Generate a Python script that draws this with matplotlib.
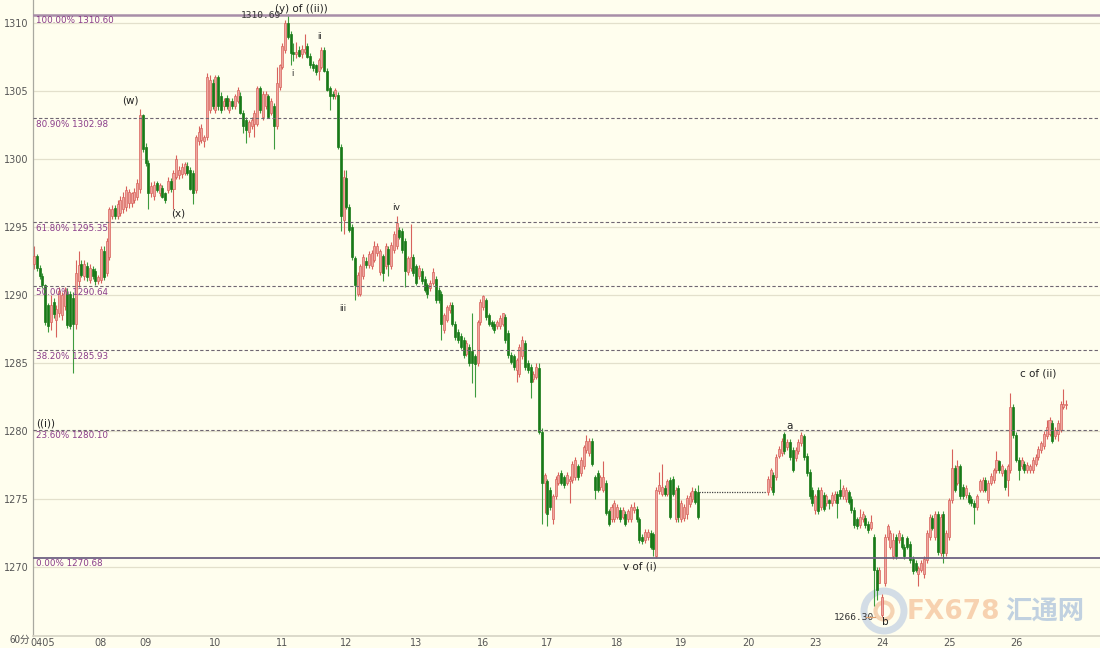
import matplotlib
matplotlib.use('Agg')
import matplotlib.pyplot as plt
from matplotlib.patches import Ellipse
import numpy as np

# XAUUSD 60-minute candles, 5 Apr - 26 Apr
holiday = [1275.5] * 24   # 19 Apr, no trading: flat bars

opens = [
    # 0405 - 09
    1292.3, 1292.9, 1292.0, 1291.4, 1290.7, 1289.3, 1288.0, 1289.5, 1288.2, 1288.7, 1288.5, 1289.2, 1290.1, 1290.1, 1289.8, 1287.9,
    1291.0, 1292.3, 1291.4, 1292.1, 1291.1, 1291.9, 1291.8, 1291.0, 1291.1, 1293.2, 1291.6, 1292.8, 1295.8, 1296.4, 1295.8, 1296.0,
    1296.3, 1296.5, 1296.8, 1296.8, 1297.0, 1297.2, 1297.8, 1303.2, 1300.9, 1299.7, 1297.5, 1297.3, 1298.2, 1297.5, 1297.9, 1297.5,
    1297.7, 1298.4, 1297.8, 1298.7, 1298.8, 1298.9, 1299.0, 1299.5, 1299.2, 1299.0, 1297.7, 1301.3, 1301.4, 1301.3, 1301.6,
    # 10 - 12
    1303.6, 1305.6, 1303.6, 1306.0, 1304.6, 1303.9, 1304.5, 1303.6, 1304.3, 1303.9, 1304.3, 1304.6, 1303.4, 1302.9, 1302.0, 1302.4,
    1302.6, 1302.6, 1305.2, 1303.1, 1303.9, 1304.6, 1303.4, 1303.9, 1302.4, 1305.3, 1306.8, 1308.0, 1310.0, 1309.2, 1307.9, 1307.7,
    1308.0, 1307.7, 1307.9, 1308.3, 1307.6, 1307.0, 1306.9, 1306.5, 1306.8, 1308.0, 1306.5, 1305.2, 1304.8, 1304.6, 1304.7, 1300.9,
    1295.5, 1298.6, 1296.5, 1295.0, 1292.7, 1290.1, 1290.1, 1291.4, 1292.5, 1292.2, 1292.1, 1292.6, 1293.1,
    # 12 - 17
    1291.7, 1292.9, 1292.1, 1293.4, 1292.1, 1293.3, 1293.6, 1294.8, 1294.7, 1294.0, 1291.7, 1292.0, 1292.8, 1292.1, 1291.4, 1291.8,
    1291.2, 1290.7, 1290.5, 1290.9, 1291.2, 1290.4, 1290.1, 1287.4, 1288.2, 1288.9, 1289.3, 1287.9, 1287.3, 1287.0, 1286.7, 1285.7,
    1286.2, 1285.9, 1285.5, 1285.0, 1288.0, 1289.1, 1289.6, 1288.5, 1288.0, 1287.9, 1287.7, 1287.7, 1287.9, 1288.4, 1287.2, 1285.6,
    1285.5, 1284.5, 1284.2, 1285.5, 1286.5, 1285.0, 1284.7, 1283.8, 1284.0, 1284.6, 1279.9,
    # 17 - 19
    1276.2, 1276.3, 1275.7, 1273.5, 1275.2, 1276.2, 1276.9, 1276.6, 1276.2, 1276.3, 1276.4, 1276.6, 1277.4, 1276.9, 1277.4, 1278.6,
    1278.4, 1279.3, 1276.6, 1276.9, 1275.9, 1275.7, 1276.2, 1274.1, 1273.5, 1273.5, 1273.7, 1274.2, 1273.7, 1273.9, 1273.5, 1273.5,
    1274.2, 1274.3, 1273.5, 1272.2, 1272.0, 1272.2, 1272.5, 1272.4, 1270.8, 1275.6, 1275.4, 1275.8, 1275.4, 1276.4, 1276.5, 1273.5,
    1275.8, 1273.5, 1273.6, 1273.9, 1274.6, 1275.0, 1275.6, 1275.5,
] + holiday + [
    # 20 - 24
    1275.5, 1275.9, 1276.8, 1276.6, 1278.2, 1278.4, 1279.8, 1278.8, 1279.2, 1278.6, 1278.0, 1278.5, 1279.1, 1279.6, 1278.2, 1277.0,
    1275.7, 1274.2, 1275.7, 1274.4, 1275.3, 1274.7, 1274.9, 1274.7, 1274.9, 1275.4, 1275.7, 1275.2, 1275.0, 1275.5, 1275.0, 1274.2,
    1273.5, 1273.1, 1273.5, 1273.6, 1273.2, 1272.9, 1272.2, 1269.8, 1268.8, 1266.5, 1268.8, 1272.2, 1271.5, 1270.8, 1272.2, 1272.0,
    1272.2, 1271.5,
    # 24 - 26
    1272.1, 1271.7, 1270.6, 1270.3, 1269.5, 1269.8, 1269.5, 1270.5, 1272.2, 1273.6, 1272.2, 1273.9, 1271.0, 1273.9, 1271.0, 1272.2,
    1274.9, 1277.3, 1276.2, 1277.4, 1275.9, 1275.3, 1275.3, 1275.0, 1274.7, 1274.4, 1275.7, 1275.7, 1276.4, 1274.9, 1276.2, 1276.4,
    1277.1, 1277.8, 1276.9, 1277.1, 1276.4, 1277.1, 1281.8, 1279.7, 1277.9, 1277.4, 1277.6, 1277.1, 1277.1, 1277.1, 1277.6, 1278.1,
    1278.6, 1278.9, 1279.6, 1279.8, 1280.6, 1279.6, 1279.8, 1280.1, 1281.8, 1281.9,
]

highs = [
    1293.6, 1293.0, 1292.2, 1291.6, 1290.8, 1289.4, 1290.0, 1289.8, 1289.3, 1290.6, 1290.2, 1290.6, 1290.5, 1290.3, 1290.2, 1292.6,
    1293.2, 1292.6, 1292.6, 1292.4, 1292.3, 1292.1, 1292.0, 1291.5, 1293.6, 1293.6, 1294.2, 1296.5, 1296.6, 1296.6, 1297.0, 1297.3,
    1297.6, 1298.0, 1297.8, 1297.6, 1297.9, 1298.5, 1303.7, 1303.3, 1301.2, 1299.9, 1298.3, 1298.4, 1298.4, 1298.2, 1298.1, 1297.6,
    1298.7, 1298.6, 1299.2, 1300.3, 1299.5, 1299.7, 1299.8, 1299.8, 1299.4, 1299.2, 1301.8, 1302.4, 1302.6, 1301.8, 1306.3,
    1306.2, 1305.9, 1306.2, 1306.2, 1304.9, 1304.5, 1304.7, 1304.5, 1304.5, 1304.8, 1305.3, 1304.9, 1303.6, 1303.1, 1302.9, 1303.1,
    1303.6, 1305.4, 1305.4, 1305.0, 1305.0, 1304.8, 1304.5, 1304.1, 1306.8, 1307.0, 1308.5, 1310.2, 1310.69, 1309.4, 1308.5, 1308.6,
    1308.3, 1308.4, 1309.2, 1308.5, 1307.8, 1307.2, 1307.0, 1307.4, 1308.2, 1308.2, 1306.7, 1305.4, 1305.0, 1305.2, 1304.9, 1301.1,
    1299.2, 1299.2, 1296.7, 1295.2, 1292.9, 1291.7, 1292.3, 1293.0, 1292.8, 1293.2, 1293.3, 1294.0, 1293.8,
    1293.4, 1293.0, 1293.8, 1293.6, 1293.9, 1294.7, 1295.8, 1295.0, 1294.9, 1294.2, 1292.9, 1295.2, 1293.0, 1292.3, 1292.2, 1292.0,
    1291.4, 1290.9, 1291.1, 1292.0, 1291.4, 1290.6, 1290.3, 1288.7, 1289.3, 1289.5, 1289.5, 1288.1, 1287.5, 1287.2, 1286.9, 1286.7,
    1286.4, 1288.7, 1285.7, 1288.2, 1289.7, 1290.0, 1289.8, 1288.7, 1288.2, 1288.1, 1288.2, 1288.5, 1288.7, 1288.6, 1287.4, 1285.8,
    1285.7, 1285.4, 1286.4, 1287.0, 1286.7, 1285.2, 1284.9, 1284.4, 1285.0, 1285.0, 1280.2,
    1276.9, 1276.5, 1275.9, 1275.4, 1276.7, 1277.0, 1277.1, 1276.8, 1277.0, 1276.7, 1277.8, 1278.1, 1277.6, 1278.1, 1279.0, 1279.7,
    1279.5, 1279.5, 1276.8, 1277.1, 1276.8, 1277.8, 1276.4, 1274.3, 1274.6, 1274.9, 1274.6, 1274.4, 1274.4, 1274.1, 1274.3, 1274.6,
    1274.8, 1274.5, 1273.7, 1272.4, 1272.8, 1272.8, 1272.7, 1272.6, 1275.9, 1277.0, 1277.6, 1276.0, 1276.5, 1276.6, 1276.7, 1275.9,
    1276.0, 1274.9, 1274.6, 1275.3, 1275.5, 1275.9, 1275.8, 1276.0,
] + holiday + [
    1276.7, 1277.3, 1277.0, 1278.3, 1278.9, 1279.5, 1279.9, 1279.4, 1279.4, 1278.8, 1278.8, 1279.4, 1279.9, 1279.8, 1278.4, 1277.2,
    1275.9, 1275.4, 1275.9, 1275.9, 1275.5, 1275.4, 1275.0, 1275.5, 1275.6, 1275.6, 1276.5, 1276.0, 1275.9, 1275.7, 1275.2, 1274.4,
    1273.7, 1274.3, 1274.1, 1273.8, 1273.4, 1273.8, 1272.4, 1270.0, 1270.0, 1268.0, 1272.4, 1273.2, 1272.7, 1272.5, 1272.4, 1272.7,
    1272.4, 1271.7,
    1272.3, 1271.9, 1270.8, 1270.5, 1270.1, 1270.5, 1270.8, 1272.7, 1273.9, 1273.8, 1274.1, 1274.1, 1273.9, 1274.1, 1272.7, 1275.1,
    1278.7, 1277.5, 1277.9, 1277.6, 1276.1, 1276.0, 1275.5, 1275.2, 1274.9, 1275.4, 1276.5, 1276.6, 1276.6, 1276.4, 1276.9, 1277.3,
    1278.5, 1277.9, 1277.6, 1277.3, 1277.6, 1282.8, 1282.0, 1279.9, 1278.1, 1278.1, 1277.8, 1277.7, 1277.6, 1278.1, 1278.3, 1278.9,
    1279.3, 1280.0, 1280.8, 1281.0, 1280.8, 1280.3, 1280.8, 1282.2, 1283.1, 1282.3,
]

lows = [
    1291.9, 1291.8, 1291.2, 1290.5, 1287.8, 1287.3, 1287.4, 1288.3, 1286.9, 1288.4, 1288.2, 1288.9, 1287.6, 1287.5, 1284.3, 1287.5,
    1290.6, 1291.3, 1291.1, 1291.0, 1290.9, 1291.2, 1290.7, 1290.8, 1290.9, 1291.1, 1291.4, 1292.6, 1295.6, 1295.6, 1295.6, 1295.8,
    1296.0, 1296.2, 1296.4, 1296.5, 1296.8, 1297.0, 1297.5, 1300.5, 1299.5, 1296.3, 1297.2, 1297.0, 1297.6, 1297.3, 1297.1, 1296.8,
    1297.5, 1297.6, 1296.3, 1298.5, 1298.5, 1298.6, 1298.8, 1298.8, 1297.7, 1296.7, 1297.5, 1301.0, 1301.2, 1300.9, 1301.4,
    1303.4, 1303.7, 1303.4, 1303.6, 1303.4, 1303.6, 1303.7, 1303.4, 1303.7, 1303.7, 1304.1, 1303.3, 1301.9, 1301.2, 1301.6, 1302.2,
    1301.6, 1302.4, 1303.4, 1302.9, 1303.7, 1303.0, 1303.2, 1300.7, 1302.2, 1305.1, 1306.6, 1307.8, 1308.8, 1306.9, 1307.2, 1307.4,
    1307.5, 1307.4, 1307.7, 1307.4, 1306.7, 1306.5, 1306.2, 1305.8, 1306.6, 1306.4, 1305.0, 1303.6, 1304.4, 1304.4, 1300.7, 1294.7,
    1294.5, 1296.3, 1294.6, 1292.6, 1289.6, 1289.9, 1289.9, 1291.2, 1292.0, 1292.0, 1291.9, 1292.4, 1292.9,
    1291.5, 1291.0, 1291.9, 1291.4, 1291.9, 1293.1, 1293.4, 1294.1, 1293.1, 1290.6, 1291.5, 1291.8, 1291.4, 1290.7, 1291.2, 1290.8,
    1290.2, 1289.8, 1290.3, 1290.7, 1289.4, 1289.4, 1286.7, 1287.2, 1288.0, 1288.7, 1287.7, 1286.7, 1286.5, 1286.0, 1285.4, 1285.5,
    1284.8, 1283.5, 1282.5, 1284.8, 1287.8, 1288.9, 1288.2, 1287.7, 1287.5, 1287.2, 1287.5, 1287.5, 1287.7, 1286.5, 1285.4, 1284.9,
    1284.5, 1283.6, 1284.0, 1285.3, 1284.5, 1284.3, 1282.4, 1283.6, 1283.8, 1279.8, 1273.2,
    1274.0, 1273.0, 1274.2, 1273.2, 1275.0, 1276.0, 1276.0, 1275.8, 1276.0, 1274.7, 1276.2, 1276.4, 1276.4, 1276.7, 1277.2, 1278.4,
    1278.2, 1277.4, 1275.0, 1275.5, 1275.7, 1275.5, 1273.8, 1273.0, 1273.3, 1273.3, 1273.5, 1273.3, 1273.5, 1273.0, 1273.3, 1273.3,
    1274.0, 1273.3, 1271.8, 1271.7, 1271.8, 1272.0, 1271.3, 1270.8, 1270.7, 1275.4, 1275.2, 1275.2, 1275.2, 1273.5, 1275.2, 1273.3,
    1273.3, 1273.3, 1273.4, 1273.5, 1274.4, 1274.8, 1274.6, 1273.5,
] + holiday + [
    1275.3, 1275.7, 1275.3, 1276.4, 1278.0, 1278.2, 1278.3, 1278.6, 1277.9, 1277.0, 1277.8, 1278.3, 1278.9, 1277.9, 1276.7, 1275.0,
    1274.5, 1273.9, 1273.9, 1274.2, 1274.1, 1274.5, 1274.3, 1274.5, 1274.7, 1273.6, 1275.0, 1275.0, 1274.8, 1274.6, 1274.0, 1272.9,
    1272.8, 1272.9, 1273.3, 1272.9, 1272.5, 1272.7, 1267.1, 1267.6, 1268.8, 1266.3, 1268.6, 1272.0, 1271.3, 1270.6, 1270.6, 1271.8,
    1271.3, 1270.6,
    1271.3, 1270.3, 1269.5, 1269.6, 1268.6, 1269.6, 1269.2, 1270.3, 1272.0, 1272.7, 1272.0, 1270.9, 1270.8, 1270.3, 1270.8, 1272.0,
    1274.7, 1275.5, 1276.0, 1275.0, 1275.0, 1275.1, 1274.6, 1274.5, 1273.2, 1274.2, 1275.5, 1275.5, 1275.5, 1274.7, 1276.0, 1276.2,
    1276.9, 1276.9, 1276.7, 1275.7, 1275.2, 1276.9, 1279.5, 1277.7, 1276.4, 1277.2, 1276.9, 1276.9, 1276.9, 1276.9, 1277.4, 1277.9,
    1278.4, 1278.7, 1279.4, 1279.6, 1279.1, 1279.4, 1279.3, 1279.9, 1281.6, 1281.6,
]

closes = [
    1292.9, 1292.0, 1291.4, 1290.7, 1288.0, 1287.7, 1289.3, 1288.6, 1289.0, 1290.3, 1290.0, 1290.4, 1287.8, 1287.7, 1287.9, 1291.6,
    1292.2, 1291.5, 1292.3, 1291.3, 1292.0, 1291.4, 1291.0, 1291.3, 1293.4, 1291.3, 1294.0, 1296.3, 1296.3, 1295.8, 1296.7, 1297.0,
    1297.2, 1297.7, 1297.6, 1297.5, 1297.6, 1298.2, 1303.2, 1300.7, 1299.7, 1297.5, 1298.0, 1298.1, 1297.7, 1298.1, 1297.2, 1297.0,
    1298.4, 1297.8, 1299.0, 1300.0, 1299.2, 1299.4, 1299.6, 1299.0, 1297.8, 1297.5, 1301.6, 1302.0, 1302.3, 1301.6, 1306.0,
    1305.8, 1303.9, 1306.0, 1303.9, 1303.6, 1304.3, 1303.9, 1304.3, 1303.9, 1304.6, 1305.1, 1303.4, 1302.4, 1302.1, 1302.7, 1302.9,
    1303.4, 1305.2, 1303.6, 1304.8, 1304.8, 1303.1, 1304.3, 1302.4, 1305.6, 1306.9, 1308.3, 1310.0, 1309.0, 1307.8, 1307.7, 1307.9,
    1307.6, 1308.1, 1308.1, 1307.5, 1306.9, 1306.7, 1306.4, 1307.3, 1308.0, 1306.5, 1305.1, 1304.6, 1304.6, 1305.1, 1300.9, 1295.8,
    1298.7, 1296.5, 1294.8, 1292.8, 1290.7, 1291.5, 1292.1, 1292.8, 1292.2, 1293.0, 1293.1, 1293.6, 1293.6,
    1293.2, 1291.6, 1293.6, 1292.3, 1293.7, 1294.5, 1295.3, 1294.3, 1293.3, 1291.8, 1292.7, 1292.8, 1291.6, 1290.9, 1292.0, 1291.0,
    1290.4, 1290.1, 1290.9, 1291.7, 1289.6, 1289.6, 1287.9, 1288.5, 1289.1, 1289.3, 1287.9, 1286.9, 1286.7, 1286.2, 1285.6, 1286.5,
    1285.0, 1285.0, 1284.9, 1288.0, 1289.5, 1289.9, 1288.4, 1287.9, 1287.7, 1287.4, 1288.0, 1288.3, 1288.7, 1286.7, 1285.6, 1285.1,
    1284.7, 1285.2, 1286.2, 1286.7, 1284.7, 1284.5, 1283.6, 1284.2, 1284.7, 1279.9, 1276.2,
    1276.8, 1273.9, 1274.4, 1275.2, 1276.5, 1276.8, 1276.2, 1276.0, 1276.8, 1276.5, 1277.6, 1277.9, 1276.6, 1277.9, 1278.8, 1279.3,
    1279.3, 1277.6, 1275.7, 1275.7, 1276.6, 1276.6, 1274.0, 1273.2, 1274.4, 1274.7, 1274.4, 1273.5, 1274.2, 1273.2, 1274.1, 1274.4,
    1274.4, 1273.5, 1272.0, 1271.9, 1272.6, 1272.6, 1271.5, 1271.3, 1275.7, 1276.0, 1275.9, 1275.4, 1276.3, 1273.7, 1275.4, 1275.7,
    1273.7, 1274.7, 1274.4, 1275.1, 1275.2, 1275.6, 1274.8, 1273.7,
] + holiday + [
    1276.5, 1277.1, 1275.5, 1278.1, 1278.7, 1279.3, 1278.5, 1279.2, 1278.1, 1277.1, 1278.6, 1279.2, 1279.7, 1278.1, 1276.9, 1275.2,
    1274.7, 1275.2, 1274.1, 1275.7, 1274.3, 1275.2, 1274.7, 1275.3, 1275.4, 1274.7, 1275.2, 1275.8, 1275.7, 1274.8, 1274.2, 1273.1,
    1273.0, 1273.7, 1273.9, 1273.1, 1272.7, 1273.3, 1269.8, 1268.3, 1269.8, 1267.8, 1272.2, 1273.0, 1272.5, 1272.0, 1270.8, 1272.5,
    1271.5, 1270.8,
    1271.5, 1270.5, 1269.7, 1269.8, 1269.9, 1270.3, 1270.6, 1272.5, 1273.7, 1272.9, 1273.9, 1271.1, 1273.7, 1271.0, 1272.5, 1274.9,
    1277.3, 1275.7, 1277.4, 1275.2, 1275.2, 1275.8, 1274.8, 1274.7, 1274.4, 1275.2, 1276.3, 1276.4, 1275.7, 1276.2, 1276.7, 1277.1,
    1277.9, 1277.1, 1277.4, 1275.9, 1277.4, 1281.8, 1279.7, 1277.9, 1277.1, 1277.9, 1277.1, 1277.5, 1277.4, 1277.9, 1278.1, 1278.7,
    1279.1, 1279.8, 1280.3, 1280.8, 1279.3, 1280.1, 1280.6, 1282.0, 1282.0, 1282.0,
]

day_labels = ['0405', '08', '09', '10', '11', '12', '13', '16', '17', '18', '19', '20', '23', '24', '25', '26']
day_start = [3, 24, 40, 65, 89, 112, 137, 161, 184, 209, 232, 256, 280, 304, 328, 352]

fib_pct = ['100.00%', '80.90%', '61.80%', '50.00%', '38.20%', '23.60%', '0.00%']
fib_val = [1310.60, 1302.98, 1295.35, 1290.64, 1285.93, 1280.10, 1270.68]

bg = '#FFFEEE'
fig = plt.figure(figsize=(11, 6.48), dpi=100)
fig.patch.set_facecolor(bg)
ax = fig.add_axes([0.03, 0.0185, 0.97, 0.9815])
ax.set_facecolor(bg)

o = np.array(opens)
h = np.array(highs)
l = np.array(lows)
c = np.array(closes)
x = np.arange(len(o))

flat = (o == h) & (h == l) & (l == c)
up = (c >= o) & ~flat
dn = (c < o) & ~flat

# grid
for yv in range(1270, 1311, 5):
    ax.axhline(yv, color='#E3E0CC', lw=0.9, zorder=0)

# watermark (inside the axes, under the candles and labels)
ft = fig.transFigure
ax.add_artist(Ellipse((884 / 1100, 1 - 611 / 648), 40 / 1100, 40 / 648,
                      transform=ft, fill=False, ec='#C9D5E4', lw=5, alpha=0.8, zorder=1))
ax.add_artist(Ellipse((884 / 1100, 1 - 611 / 648), 17 / 1100, 17 / 648,
                      transform=ft, fill=False, ec='#F3C9A4', lw=3, alpha=0.8, zorder=1))
ax.text(953 / 1100, 1 - 612 / 648, 'FX678', transform=ft, fontsize=19, weight='bold',
        color='#F6CBA6', alpha=0.85, ha='center', va='center', zorder=1)
ax.text(1045 / 1100, 1 - 612 / 648, '汇通网', transform=ft, fontsize=19, weight='bold',
        color='#B6CADE', alpha=0.85, ha='center', va='center', zorder=1,
        family=['Noto Sans CJK SC', 'DejaVu Sans'])

# candles
ax.vlines(x[up], l[up], h[up], color='#D8625C', lw=0.8, zorder=2)
ax.vlines(x[dn], l[dn], h[dn], color='#3E9B3E', lw=0.8, zorder=2)
ax.bar(x[up], np.maximum(c - o, 0.08)[up], bottom=o[up], width=0.72,
       color='#EFA7A0', edgecolor='#D8625C', lw=0.5, zorder=3)
ax.bar(x[dn], np.maximum(o - c, 0.08)[dn], bottom=c[dn], width=0.72,
       color='#187A18', edgecolor='#187A18', lw=0.5, zorder=3)
fx = x[flat]
ax.hlines(o[flat][0], fx.min() - 0.5, fx.max() + 0.5, color='#444444',
          lw=0.9, linestyles=(0, (1, 1)), zorder=2)

# fibonacci levels
for k, (pct, val) in enumerate(zip(fib_pct, fib_val)):
    if k == 0:
        ax.axhline(val, color='#A88EA8', lw=1.8, zorder=4)
    elif k == len(fib_val) - 1:
        ax.axhline(val, color='#6E6282', lw=1.3, zorder=4)
    else:
        ax.axhline(val, color='#6F6672', lw=0.8, ls=(0, (3, 2)), zorder=4)
    ax.text(0.6, val - 0.12, f'{pct} {val:.2f}', color='#8A3C8A',
            fontsize=6.3, va='top', ha='left', zorder=6)

# wave labels
lab = dict(color='#222222', zorder=7, ha='center', va='center')
ax.text(34.4, 1304.3, '(w)', fontsize=7.5, **lab)
ax.text(51.6, 1296.0, '(x)', fontsize=7.5, **lab)
ax.text(95.8, 1311.0, '(y) of ((ii))', fontsize=7.5, **lab)
ax.text(81.3, 1310.55, '1310.69', fontsize=6.8, family='DejaVu Sans Mono',
        color='#333333', ha='center', va='center', zorder=7)
ax.text(92.8, 1306.3, 'i', fontsize=6, **lab)
ax.text(102.2, 1309.0, 'ii', fontsize=6, **lab)
ax.text(110.8, 1289.0, 'iii', fontsize=6, **lab)
ax.text(129.7, 1296.4, 'iv', fontsize=6.5, **lab)
ax.text(217.2, 1270.05, 'v of (i)', fontsize=7.5, **lab)
ax.text(271.0, 1280.4, 'a', fontsize=7.5, **lab)
ax.text(294.0, 1266.3, '1266.30', fontsize=6.8, family='DejaVu Sans Mono',
        color='#333333', ha='center', va='center', zorder=7)
ax.plot([298.2, 301.6], [1266.3, 1266.3], color='#E0A070', lw=0.9, zorder=7)
ax.text(305.0, 1265.95, 'b', fontsize=7.5, **lab)
ax.text(359.9, 1284.2, 'c of (ii)', fontsize=7.5, **lab)
ax.text(0.8, 1280.2, '((i))', fontsize=7.5, color='#222222', ha='left',
        va='bottom', zorder=7)

# axes
ax.set_xlim(-0.36, 382.1)
ax.set_ylim(1264.93, 1311.69)
ax.set_yticks(range(1270, 1311, 5))
ax.set_yticklabels([str(v) for v in range(1270, 1311, 5)])
ax.set_xticks(day_start)
ax.set_xticklabels(day_labels)
ax.tick_params(axis='both', length=0, labelsize=7, labelcolor='#555555')
ax.tick_params(axis='y', pad=3)
ax.tick_params(axis='x', pad=1.5)
for s in ['top', 'right']:
    ax.spines[s].set_visible(False)
ax.spines['left'].set_color('#A9A9A0')
ax.spines['left'].set_linewidth(0.9)
ax.spines['bottom'].set_color('#D6D3C4')
ax.spines['bottom'].set_linewidth(1.2)

fig.text(0.018, 0.0045, '60分', fontsize=7, color='#555555',
         family=['Noto Sans CJK SC', 'DejaVu Sans'], ha='center', va='bottom')

fig.savefig('out.png', dpi=100, facecolor=bg)
